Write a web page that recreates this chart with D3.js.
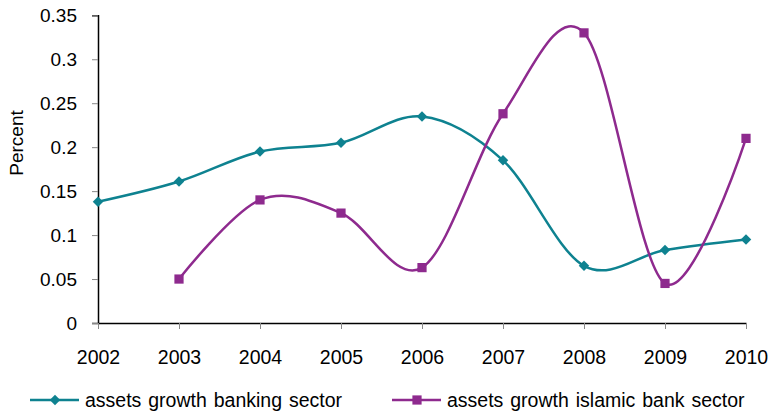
<!DOCTYPE html>
<html>
<head>
<meta charset="utf-8">
<script src="https://cdn.jsdelivr.net/npm/d3@7"></script>
<style>
  html, body { margin: 0; padding: 0; background: #fff; }
  svg { display: block; font-family: "Liberation Sans", Arial, sans-serif; }
</style>
</head>
<body>
<svg id="chart" width="770" height="416"></svg>
<script>
// Annual asset growth, 2002–2010
const years = [2002, 2003, 2004, 2005, 2006, 2007, 2008, 2009, 2010];
const bankingGrowth = [0.138, 0.161, 0.195, 0.205, 0.235, 0.185, 0.065, 0.083, 0.095];
const islamicGrowth = [null, 0.050, 0.140, 0.125, 0.063, 0.238, 0.330, 0.045, 0.210];
const yTicks = [0, 0.05, 0.1, 0.15, 0.2, 0.25, 0.3, 0.35];
const seriesNames = ["assets growth banking sector", "assets growth islamic bank sector"];

const tealColor = "#0e8290";
const purpleColor = "#8e2a8e";

const svg = d3.select("#chart");
const plot = { left: 98, right: 746, top: 15.3, bottom: 323 };

const x = d3.scalePoint().domain(years).range([plot.left, plot.right]);
const y = d3.scaleLinear().domain([0, 0.35]).range([plot.bottom, plot.top]);

// Y axis
const yAxis = svg.append("g")
  .attr("transform", `translate(${plot.left},0)`)
  .call(d3.axisLeft(y).tickValues(yTicks).tickSize(6).tickPadding(15)
    .tickFormat(d => d === 0 ? "0" : String(+d.toFixed(2))));
yAxis.select(".domain").attr("stroke", "#000").attr("stroke-width", 1.5);
yAxis.selectAll(".tick line").attr("stroke", "#888").attr("stroke-width", 1);
yAxis.selectAll(".tick text").attr("font-size", 19).attr("fill", "#000")
  .attr("font-family", "Liberation Sans, Arial, sans-serif");

// X axis
const xAxis = svg.append("g")
  .attr("transform", `translate(0,${plot.bottom})`)
  .call(d3.axisBottom(x).tickSize(6).tickPadding(21).tickSizeOuter(0));
xAxis.select(".domain").attr("stroke", "#000").attr("stroke-width", 1.5);
xAxis.selectAll(".tick line").attr("stroke", "#888").attr("stroke-width", 1);
xAxis.selectAll(".tick text").attr("font-size", 19.5).attr("fill", "#000")
  .attr("font-family", "Liberation Sans, Arial, sans-serif");

// Y axis title
svg.append("text")
  .attr("transform", `translate(23,143) rotate(-90)`)
  .attr("text-anchor", "middle")
  .attr("font-size", 19)
  .attr("fill", "#000")
  .text("Percent");

const line = d3.line()
  .defined(d => d.v !== null)
  .x(d => x(d.year))
  .y(d => y(d.v))
  .curve(d3.curveCatmullRom.alpha(0));

const diamond = d3.symbol().type(d3.symbolDiamond2).size(70);
const square = d3.symbol().type(d3.symbolSquare).size(85);

function drawSeries(values, color, symbolGen) {
  const pts = years.map((yr, i) => ({ year: yr, v: values[i] }));
  svg.append("path")
    .datum(pts)
    .attr("fill", "none")
    .attr("stroke", color)
    .attr("stroke-width", 2.5)
    .attr("d", line);
  svg.append("g").selectAll("path")
    .data(pts.filter(d => d.v !== null))
    .join("path")
    .attr("transform", d => `translate(${x(d.year)},${y(d.v)})`)
    .attr("d", symbolGen)
    .attr("fill", color);
}

drawSeries(bankingGrowth, tealColor, diamond);
drawSeries(islamicGrowth, purpleColor, square);

// Legend
const legendItems = [
  { name: seriesNames[0], color: tealColor, sym: diamond, x0: 30 },
  { name: seriesNames[1], color: purpleColor, sym: square, x0: 392 }
];
const legendY = 400;
legendItems.forEach(item => {
  const g = svg.append("g");
  g.append("line")
    .attr("x1", item.x0).attr("x2", item.x0 + 49)
    .attr("y1", legendY).attr("y2", legendY)
    .attr("stroke", item.color).attr("stroke-width", 2.5);
  g.append("path")
    .attr("transform", `translate(${item.x0 + 25},${legendY})`)
    .attr("d", item.sym)
    .attr("fill", item.color);
  g.append("text")
    .attr("x", item.x0 + 55)
    .attr("y", legendY + 7)
    .attr("font-size", 19.5)
    .attr("word-spacing", 1.5)
    .attr("fill", "#000")
    .text(item.name);
});
</script>
</body>
</html>
